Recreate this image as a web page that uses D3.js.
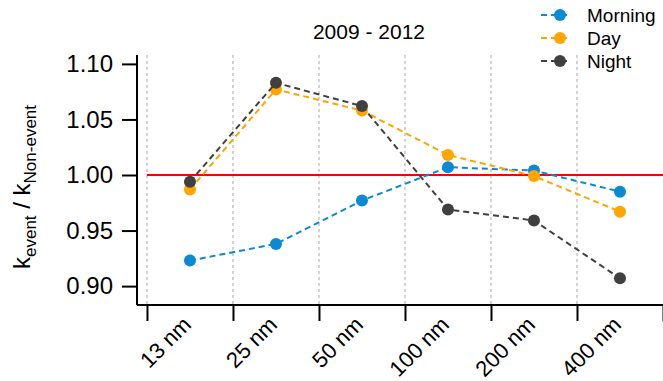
<!DOCTYPE html>
<html>
<head>
<meta charset="utf-8">
<script src="https://cdn.jsdelivr.net/npm/d3@7"></script>
<style>
  html, body { margin: 0; padding: 0; background: #fff; }
  svg { display: block; font-family: "Liberation Sans", Arial, sans-serif; }
</style>
</head>
<body>
<svg id="chart" width="663" height="381"></svg>
<script>
// Size-bin boundaries (tick labels) and the ratio of rate constants per bin
const binEdges = ["13 nm", "25 nm", "50 nm", "100 nm", "200 nm", "400 nm", ""];
const morning = [0.923, 0.938, 0.977, 1.007, 1.004, 0.985];
const day     = [0.987, 1.077, 1.058, 1.018, 0.999, 0.967];
const night   = [0.994, 1.083, 1.062, 0.969, 0.959, 0.907];
const yTicks  = [0.90, 0.95, 1.00, 1.05, 1.10];
const seriesNames = ["Morning", "Day", "Night"];
const seriesColors = ["#0a8ad2", "#ffa500", "#404040"];

const series = [morning, day, night].map((values, i) => ({
  name: seriesNames[i], color: seriesColors[i], values
}));

const svg = d3.select("#chart");
const plot = { left: 137, right: 663, top: 55, bottom: 305 };

// bins sit between consecutive edges; edges at integer positions
const x = d3.scaleLinear().domain([-0.116, 6]).range([plot.left, plot.right]);
const y = d3.scaleLinear().domain([0.883, 1.108]).range([plot.bottom, plot.top]);

// dashed vertical guides at each bin edge
svg.append("g")
  .selectAll("line")
  .data(d3.range(binEdges.length - 1))
  .join("line")
  .attr("x1", d => x(d)).attr("x2", d => x(d))
  .attr("y1", plot.top).attr("y2", plot.bottom)
  .attr("stroke", "#a8a8a8")
  .attr("stroke-width", 1)
  .attr("stroke-dasharray", "3,3");

// reference line at ratio = 1
svg.append("line")
  .attr("x1", x(0)).attr("x2", plot.right)
  .attr("y1", y(1)).attr("y2", y(1))
  .attr("stroke", "#ff0000")
  .attr("stroke-width", 2);

// series lines and markers
const line = d3.line().x((d, i) => x(i + 0.5)).y(d => y(d));
series.forEach(s => {
  const g = svg.append("g");
  g.append("path")
    .attr("d", line(s.values))
    .attr("fill", "none")
    .attr("stroke", s.color)
    .attr("stroke-width", 2)
    .attr("stroke-dasharray", "6,4");
  g.selectAll("circle")
    .data(s.values)
    .join("circle")
    .attr("cx", (d, i) => x(i + 0.5))
    .attr("cy", d => y(d))
    .attr("r", 6)
    .attr("fill", s.color);
});

// y axis
const yAxis = svg.append("g")
  .attr("transform", `translate(${plot.left},0)`)
  .call(d3.axisLeft(y).tickValues(yTicks).tickFormat(d3.format(".2f")).tickSize(15).tickPadding(9));
yAxis.select(".domain").attr("d", `M0,${plot.top}V${plot.bottom}`).attr("stroke-width", 2);
yAxis.selectAll(".tick line").attr("stroke-width", 2);
yAxis.selectAll(".tick text").attr("font-size", 24).attr("fill", "#000")
  .attr("font-family", "Liberation Sans, Arial, sans-serif");

// x axis
const xAxis = svg.append("g")
  .attr("transform", `translate(0,${plot.bottom})`)
  .call(d3.axisBottom(x).tickValues(d3.range(binEdges.length)).tickFormat(i => binEdges[i]).tickSize(16));
xAxis.select(".domain").attr("d", `M${plot.left},0H${plot.right}`).attr("stroke-width", 2);
xAxis.selectAll(".tick line").attr("stroke-width", 2);
xAxis.selectAll(".tick text")
  .attr("font-size", 22)
  .attr("fill", "#000")
  .attr("font-family", "Liberation Sans, Arial, sans-serif")
  .attr("text-anchor", "end")
  .attr("dy", null)
  .attr("y", 0)
  .attr("transform", "translate(45,21) rotate(-45)");

// title
svg.append("text")
  .attr("x", 369).attr("y", 39)
  .attr("text-anchor", "middle")
  .attr("font-size", 21)
  .text("2009 - 2012");

// y-axis label with subscripts
const yl = svg.append("text")
  .attr("transform", "translate(30,187) rotate(-90)")
  .attr("text-anchor", "middle")
  .attr("font-size", 24);
yl.append("tspan").text("k");
yl.append("tspan").attr("font-size", 17).attr("dy", 6).text("event");
yl.append("tspan").attr("dy", -6).text(" / k");
yl.append("tspan").attr("font-size", 17).attr("dy", 6).text("Non-event");

// legend
const legend = svg.append("g");
series.forEach((s, i) => {
  const cy = 15 + i * 23;
  legend.append("line")
    .attr("x1", 541).attr("x2", 571).attr("y1", cy).attr("y2", cy)
    .attr("stroke", s.color).attr("stroke-width", 2).attr("stroke-dasharray", "6,4");
  legend.append("circle").attr("cx", 560).attr("cy", cy).attr("r", 6).attr("fill", s.color);
  legend.append("text").attr("x", 587).attr("y", cy + 7)
    .attr("font-size", 19).text(s.name);
});
</script>
</body>
</html>
